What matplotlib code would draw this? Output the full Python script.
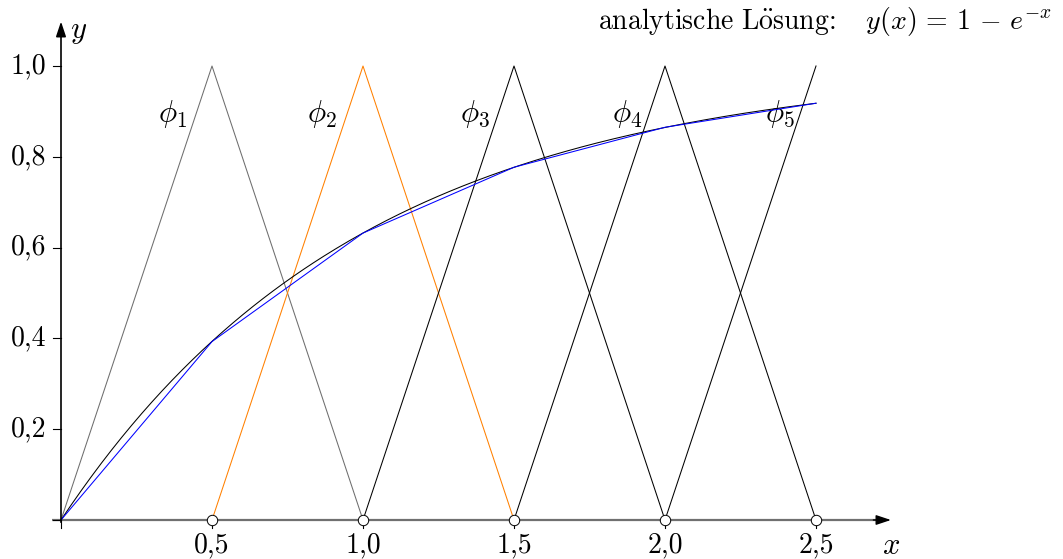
import numpy as np
import matplotlib
matplotlib.use("Agg")
import matplotlib.pyplot as plt

plt.rcParams['mathtext.fontset'] = 'cm'
plt.rcParams['font.family'] = ['cmr10', 'DejaVu Serif']

# --- data ---
nodes = [0.0, 0.5, 1.0, 1.5, 2.0, 2.5]
fem_values = [0.0, 0.393, 0.632, 0.777, 0.865, 0.918]
hat_peaks = [0.5, 1.0, 1.5, 2.0, 2.5]
hat_labels = [r'$\phi_1$', r'$\phi_2$', r'$\phi_3$', r'$\phi_4$', r'$\phi_5$']
hat_colors = ['#6e6e6e', '#ff8000', 'black', 'black', 'black']
label_x = [0.368, 0.864, 1.37, 1.874, 2.38]
label_y = 0.895
xticks = [0.5, 1.0, 1.5, 2.0, 2.5]
xtick_labels = ['0,5', '1,0', '1,5', '2,0', '2,5']
yticks = [0.2, 0.4, 0.6, 0.8, 1.0]
ytick_labels = ['0,2', '0,4', '0,6', '0,8', '1,0']

W, H = 1063, 559
fig = plt.figure(figsize=(W / 100, H / 100), dpi=100)
ax = fig.add_axes([0, 0, 1, 1])
ax.set_axis_off()
x0px, y0px = 61, 520
sx, sy = 302.0, 454.0
ax.set_xlim(-x0px / sx, (W - x0px) / sx)
ax.set_ylim(-(H - y0px) / sy, y0px / sy)

lw = 0.75
# hat functions
h = 0.5
for p, c in zip(hat_peaks, hat_colors):
    xs = [p - h, p, p + h] if p + h <= 2.5 else [p - h, p]
    ys = [0, 1, 0] if p + h <= 2.5 else [0, 1]
    ax.plot(xs, ys, color=c, lw=lw, zorder=3)

# analytic
xa = np.linspace(0, 2.5, 300)
ax.plot(xa, 1 - np.exp(-xa), color='black', lw=lw, zorder=4)
# FEM
ax.plot(nodes, fem_values, color='#0000ff', lw=lw, zorder=5)

# axes
ax.plot([-0.03, 2.70], [0, 0], color='#707070', lw=1.6, zorder=2, solid_capstyle='butt')
ax.annotate('', xy=(2.748, 0), xytext=(2.69, 0),
            arrowprops=dict(arrowstyle='-|>,head_length=0.9,head_width=0.3', color='black',
                            lw=1.0, shrinkA=0, shrinkB=0), zorder=2)
ax.annotate('', xy=(0, 1.098), xytext=(0, -0.005),
            arrowprops=dict(arrowstyle='-|>,head_length=0.9,head_width=0.3', color='black',
                            lw=1.2, shrinkA=0, shrinkB=0), zorder=6)

# ticks
fs = 20
for yt, lab in zip(yticks, ytick_labels):
    ax.plot([-8 / sx, 0], [yt, yt], color='black', lw=0.8, zorder=6)
    ax.text(-15 / sx, yt, lab, ha='right', va='center', fontsize=fs)
for xt, lab in zip(xticks, xtick_labels):
    ax.plot([xt, xt], [0, -8 / sy], color='black', lw=0.8, zorder=1)
    ax.text(xt, -12 / sy, lab, ha='center', va='top', fontsize=fs)
ax.plot([-8 / sx, 0], [0, 0], color='black', lw=0.8, zorder=6)
ax.plot([0, 0], [0, -8 / sy], color='black', lw=0.8, zorder=6)

ax.plot(xticks, [0] * len(xticks), 'o', ms=7.5, mfc='white', mec='black', mew=0.7, zorder=7)

# labels
for lx, lab in zip(label_x, hat_labels):
    ax.text(lx, label_y, lab, ha='center', va='center', fontsize=22)
ax.text(2.72, -26 / sy, r'$x$', ha='left', va='center', fontsize=22)
ax.text(0.03, 1.075, r'$y$', ha='left', va='center', fontsize=22)

ax.text((1052 - x0px) / sx, (y0px - 22) / sy,
        r'$\mathrm{analytische\ L\ddot{o}sung\!:}\quad y(x)\,=\,1\,-\,e^{-x}$',
        ha='right', va='center', fontsize=20)

fig.savefig('out.png', dpi=100)
